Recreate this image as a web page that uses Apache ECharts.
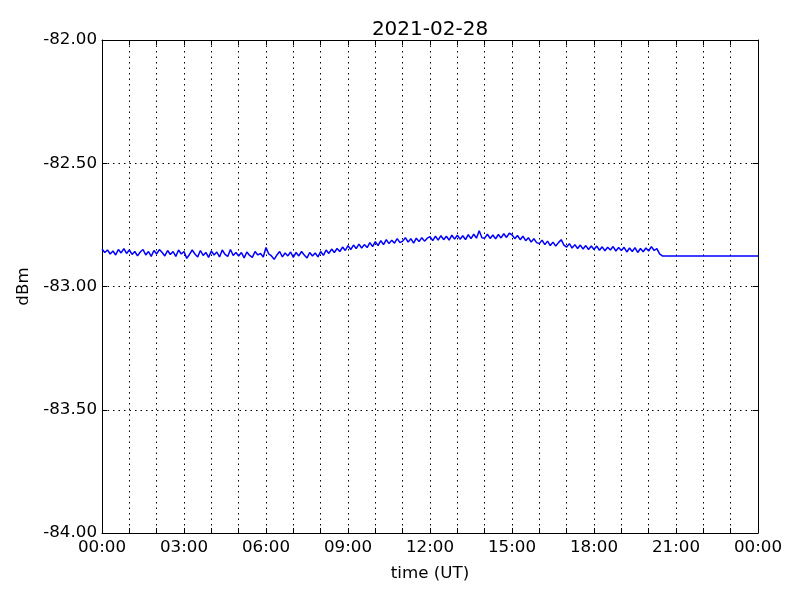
<!DOCTYPE html>
<html>
<head>
<meta charset="utf-8">
<script src="https://cdn.jsdelivr.net/npm/echarts@6/dist/echarts.min.js"></script>
<style>html,body{margin:0;padding:0;background:#fff}#c{width:800px;height:600px}</style>
</head>
<body>
<div id="c"></div>
<script>
// Title and axes
const chartTitle = '2021-02-28';
const xName = 'time (UT)';
const yName = 'dBm';
const yMin = -84, yMax = -82, yStep = 0.5;
const xMinH = 0, xMaxH = 24, xStepH = 1, xLabelEveryH = 3;

// Received signal level (dBm), sampled every 0.1 h from 00:00 to 20:30
const level = [
  // 00h
  -82.848, -82.862, -82.852, -82.868, -82.856, -82.872, -82.850, -82.864, -82.846, -82.866,
  // 01h
  -82.852, -82.870, -82.858, -82.876, -82.860, -82.850, -82.872, -82.858, -82.878, -82.854,
  // 02h
  -82.868, -82.850, -82.862, -82.876, -82.854, -82.870, -82.858, -82.878, -82.852, -82.868,
  // 03h
  -82.858, -82.886, -82.870, -82.852, -82.868, -82.880, -82.854, -82.874, -82.862, -82.882,
  // 04h
  -82.856, -82.872, -82.860, -82.880, -82.852, -82.870, -82.878, -82.850, -82.874, -82.862,
  // 05h
  -82.876, -82.862, -82.884, -82.860, -82.874, -82.882, -82.858, -82.872, -82.866, -82.880,
  // 06h
  -82.842, -82.868, -82.876, -82.890, -82.872, -82.858, -82.880, -82.864, -82.876, -82.860,
  // 07h
  -82.882, -82.862, -82.876, -82.858, -82.872, -82.884, -82.862, -82.876, -82.864, -82.880,
  // 08h
  -82.858, -82.874, -82.852, -82.866, -82.848, -82.862, -82.846, -82.858, -82.840, -82.854,
  // 09h
  -82.834, -82.850, -82.832, -82.846, -82.828, -82.844, -82.830, -82.842, -82.822, -82.838,
  // 10h
  -82.818, -82.834, -82.814, -82.830, -82.810, -82.826, -82.812, -82.824, -82.806, -82.822,
  // 11h
  -82.816, -82.802, -82.820, -82.806, -82.824, -82.804, -82.818, -82.802, -82.816, -82.804,
  // 12h
  -82.798, -82.814, -82.796, -82.812, -82.794, -82.810, -82.796, -82.812, -82.792, -82.808,
  // 13h
  -82.792, -82.808, -82.794, -82.810, -82.790, -82.806, -82.788, -82.804, -82.774, -82.802,
  // 14h
  -82.804, -82.788, -82.805, -82.791, -82.807, -82.789, -82.803, -82.786, -82.801, -82.784,
  // 15h
  -82.790, -82.806, -82.793, -82.810, -82.796, -82.814, -82.802, -82.820, -82.806, -82.822,
  // 16h
  -82.826, -82.812, -82.830, -82.816, -82.834, -82.820, -82.836, -82.822, -82.810, -82.832,
  // 17h
  -82.840, -82.826, -82.844, -82.830, -82.846, -82.832, -82.848, -82.834, -82.850, -82.836,
  // 18h
  -82.850, -82.836, -82.853, -82.839, -82.855, -82.841, -82.852, -82.838, -82.856, -82.842,
  // 19h
  -82.854, -82.841, -82.860, -82.844, -82.858, -82.842, -82.862, -82.846, -82.859, -82.844,
  // 20h
  -82.856, -82.838, -82.854, -82.846, -82.868, -82.876
];
const levelStartH = 0;
const levelStepH = 0.1;
// Flat hold segment after data ends
const holdHours = [20.5, 24.0];
const holdLevel = [-82.876, -82.876];

const pts = level.map((v, i) => [+(levelStartH + i * levelStepH).toFixed(2), v]);
holdHours.forEach((h, i) => pts.push([h, holdLevel[i]]));

const FONT = 'DejaVu Sans';
const pad = n => (n < 10 ? '0' : '') + n;
const gridLine = { show: true, lineStyle: { color: '#000', width: 1, type: [1.5, 4] } };
const axLine = { show: true, onZero: false, lineStyle: { color: '#000', width: 1 } };
const tick = { show: true, inside: true, length: 5, lineStyle: { color: '#000', width: 1 } };

const chart = echarts.init(document.getElementById('c'));
chart.setOption({
  animation: false,
  backgroundColor: '#fff',
  title: {
    text: chartTitle, left: 425, top: 15, textAlign: 'center',
    textStyle: { fontFamily: FONT, fontSize: 20, fontWeight: 'normal', color: '#000' }
  },
  grid: { left: 102, right: 42, top: 40, bottom: 67 },
  xAxis: [{
    type: 'value', min: xMinH, max: xMaxH, interval: xStepH, position: 'bottom',
    name: xName, nameLocation: 'middle', nameGap: 32,
    nameTextStyle: { fontFamily: FONT, fontSize: 16.7, color: '#000' },
    axisLine: axLine, axisTick: tick, splitLine: gridLine,
    axisLabel: {
      fontFamily: FONT, fontSize: 16.7, color: '#000', margin: 6,
      formatter: v => (Math.round(v) % xLabelEveryH === 0) ? pad(Math.round(v) % 24) + ':00' : ''
    }
  }, {
    type: 'value', min: xMinH, max: xMaxH, interval: xStepH, position: 'top',
    axisLine: axLine, axisTick: tick, splitLine: { show: false }, axisLabel: { show: false }
  }],
  yAxis: [{
    type: 'value', min: yMin, max: yMax, interval: yStep, position: 'left',
    name: yName, nameLocation: 'middle', nameGap: 62, nameRotate: 90,
    nameTextStyle: { fontFamily: FONT, fontSize: 16.7, color: '#000' },
    axisLine: axLine, axisTick: tick, splitLine: gridLine,
    axisLabel: { fontFamily: FONT, fontSize: 16.7, color: '#000', margin: 5, formatter: v => v.toFixed(2) }
  }, {
    type: 'value', min: yMin, max: yMax, interval: yStep, position: 'right',
    axisLine: axLine, axisTick: tick, splitLine: { show: false }, axisLabel: { show: false }
  }],
  series: [{
    type: 'line', xAxisIndex: 0, yAxisIndex: 0, data: pts, showSymbol: false, symbol: 'none',
    lineStyle: { color: '#0000ff', width: 1.5 }, itemStyle: { color: '#0000ff' }
  }]
});
</script>
</body>
</html>
